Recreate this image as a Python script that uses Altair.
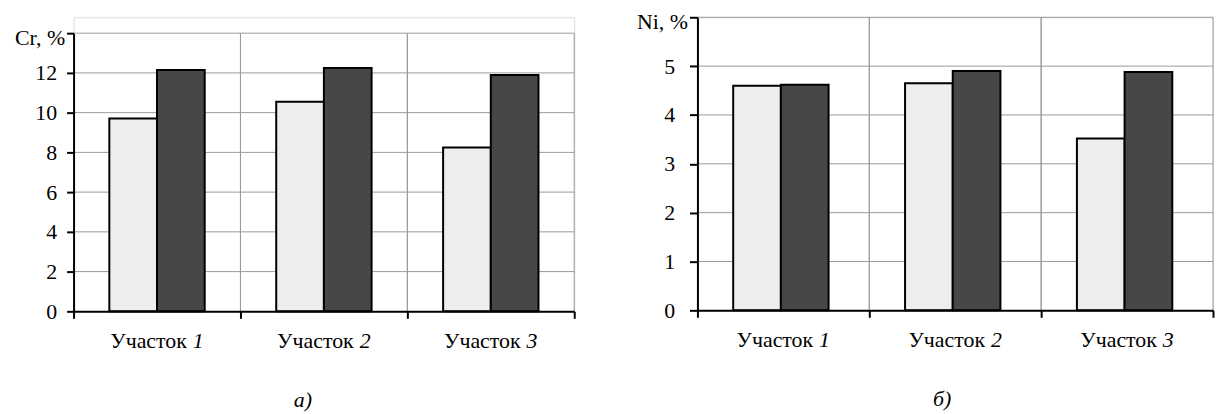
import altair as alt
import pandas as pd

sites = ["Участок 1", "Участок 2", "Участок 3"]
site_words = ["Участок", "Участок", "Участок"]
site_nums = ["1", "2", "3"]
series = ["s1", "s2"]

cr_s1 = [9.7, 10.55, 8.25]
cr_s2 = [12.15, 12.25, 11.9]
ni_s1 = [4.6, 4.65, 3.52]
ni_s2 = [4.62, 4.9, 4.88]

cr_ticks = [0, 2, 4, 6, 8, 10, 12, 14]
ni_ticks = [0, 1, 2, 3, 4, 5, 6]
cr_unit = "Cr, %"
ni_unit = "Ni, %"
captions = ["а)", "б)"]

FONT = "Liberation Serif"
FS = 22
LIGHT = "#ededed"
DARK = "#474747"
GRID = "#9a9a9a"


def panel(v1, v2, ticks, unit, caption, width, height, yrange, pad_outer, tick, lab_pad, cap_dx):
    bars = pd.DataFrame({
        "site": sites * 2,
        "series": [series[0]] * 3 + [series[1]] * 3,
        "value": v1 + v2,
    })
    labels = pd.DataFrame({"site": sites, "word": site_words, "num": site_nums})
    top = ticks[-1]
    cond = f"datum.value == {top}"

    xscale = alt.Scale(paddingInner=0, paddingOuter=0)
    yscale = alt.Scale(domain=[0, top], range=yrange, nice=False, zero=True)

    x_axis = alt.Axis(title=None, labels=False, tickBand="extent", grid=False,
                      domainColor="black", domainWidth=2, tickColor="black",
                      tickWidth=2, tickSize=7, zindex=1)
    y_axis = alt.Axis(
        title=None, values=ticks, grid=False,
        labelExpr=f"{cond} ? '{unit}' : datum.label",
        labelFont=FONT, labelFontSize=FS, labelColor="black",
        labelPadding={"condition": {"test": cond, "value": 2}, "value": lab_pad},
        labelOffset={"condition": {"test": cond, "value": 4}, "value": 0},
        domainColor="black", domainWidth=2, tickColor="black", tickWidth=2,
        tickSize=tick, zindex=1,
    )

    base_bar = alt.Chart(bars).mark_bar(stroke="black", strokeWidth=2).encode(
        x=alt.X("site:N", sort=sites, scale=xscale, axis=x_axis),
        xOffset=alt.XOffset("series:N", sort=series,
                            scale=alt.Scale(paddingInner=0, paddingOuter=pad_outer)),
        y=alt.Y("value:Q", scale=yscale, axis=y_axis),
        color=alt.Color("series:N", sort=series,
                        scale=alt.Scale(domain=series, range=[LIGHT, DARK]),
                        legend=None),
    )

    hgrid = alt.Chart(pd.DataFrame({"t": ticks[1:]})).mark_rule(
        color=GRID, strokeWidth=1
    ).encode(y=alt.Y("t:Q"), x=alt.value(0), x2=alt.value(width))

    grid_rules = alt.Chart(labels).mark_rule(color=GRID, strokeWidth=1).encode(
        x=alt.X("site:N", sort=sites, bandPosition=1),
        y=alt.datum(0),
        y2=alt.datum(top),
    )
    grid_rules0 = alt.Chart(labels[1:]).mark_rule(color=GRID, strokeWidth=1).encode(
        x=alt.X("site:N", sort=sites, bandPosition=0),
        y=alt.datum(0),
        y2=alt.datum(top),
    )

    ybase = yrange[0] + 37
    words = alt.Chart(labels).mark_text(
        font=FONT, fontSize=FS, color="black", align="right", baseline="alphabetic", dx=30
    ).encode(x=alt.X("site:N", sort=sites), y=alt.value(ybase), text="word:N")
    nums = alt.Chart(labels).mark_text(
        font=FONT, fontSize=FS, color="black", align="left", baseline="alphabetic",
        dx=36, fontStyle="italic"
    ).encode(x=alt.X("site:N", sort=sites), y=alt.value(ybase), text="num:N")

    return alt.layer(hgrid, grid_rules, grid_rules0, base_bar, words, nums).properties(
        width=width, height=height,
        title=alt.TitleParams(text=caption, orient="bottom", anchor="middle",
                              frame="bounds", font=FONT, fontSize=FS,
                              fontStyle="italic", fontWeight="normal",
                              color="black", offset=38, dx=cap_dx),
    )


left = panel(cr_s1, cr_s2, cr_ticks, cr_unit, captions[0], 504, 296, [296, 16], 0.75, 7, 10, 8)
right = panel(ni_s1, ni_s2, ni_ticks, ni_unit, captions[1], 519, 295, [295, 0], 0.73, 8, 15, 17)

chart = alt.hconcat(left, right, spacing=60).properties(
    padding={"left": 6, "top": 0, "right": 0, "bottom": 0}
).configure_view(stroke=None).configure(background="white")

chart.save("out.html", embed_options={"renderer": "svg", "actions": False})
